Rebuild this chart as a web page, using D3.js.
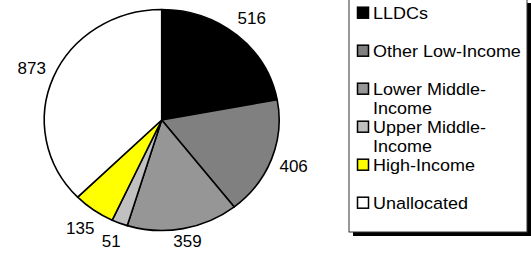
<!DOCTYPE html>
<html>
<head>
<meta charset="utf-8">
<script src="https://cdn.jsdelivr.net/npm/d3@7"></script>
<style>
  body { margin: 0; background: #fff; }
  text { font-family: "Liberation Sans", Arial, sans-serif; fill: #000; }
</style>
</head>
<body>
<svg id="chart" width="531" height="253"></svg>
<script>
// data
var categories = ["LLDCs", "Other Low-Income", "Lower Middle-Income", "Upper Middle-Income", "High-Income", "Unallocated"];
var legendLines = [["LLDCs"], ["Other Low-Income"], ["Lower Middle-", "Income"], ["Upper Middle-", "Income"], ["High-Income"], ["Unallocated"]];
var values = [516, 406, 359, 51, 135, 873];
var colors = ["#000000", "#808080", "#969696", "#c0c0c0", "#ffff00", "#ffffff"];

var svg = d3.select("#chart");
var W = 531, H = 253;
var cx = 161.7, cy = 120, R = 110.5, sx = 1.063;

var pie = d3.pie().sort(null).value(function(d){ return d; });
var arcs = pie(values);
var arc = d3.arc().innerRadius(0).outerRadius(R);
var labelArc = d3.arc().innerRadius(R * 1.2).outerRadius(R * 1.2);

var g = svg.append("g")
    .attr("transform", "translate(" + cx + "," + cy + ") scale(" + sx + ",1)");
g.selectAll("path.slice")
    .data(arcs)
    .enter().append("path")
    .attr("class", "slice")
    .attr("d", arc)
    .attr("fill", function(d, i){ return colors[i]; })
    .attr("stroke", "#000")
    .attr("stroke-width", 1.6)
    .attr("stroke-linejoin", "round")
    .attr("vector-effect", "non-scaling-stroke");

// value labels (kept inside the picture at the bottom)
svg.selectAll("text.val")
    .data(arcs)
    .enter().append("text")
    .attr("class", "val")
    .attr("transform", function(d){
        var c = labelArc.centroid(d);
        var y = Math.min(cy + c[1], H - 12);
        return "translate(" + (cx + c[0] * sx) + "," + y + ") scale(" + sx + ",1)";
    })
    .attr("text-anchor", "middle")
    .attr("dy", "0.35em")
    .attr("font-size", 16)
    .text(function(d){ return d.data; });

// legend
var lx = 349, ly = -1, lw = 178, lh = 233;
svg.append("rect")
    .attr("x", lx + 4).attr("y", ly + 4)
    .attr("width", lw).attr("height", lh)
    .attr("fill", "#000");
svg.append("rect")
    .attr("x", lx).attr("y", ly)
    .attr("width", lw).attr("height", lh)
    .attr("fill", "#fff")
    .attr("stroke", "#333")
    .attr("stroke-width", 1);

var rowY = d3.scalePoint().domain(categories).range([12.7, 202.7]);
var item = svg.selectAll("g.item")
    .data(categories)
    .enter().append("g")
    .attr("class", "item")
    .attr("transform", function(d){ return "translate(0," + rowY(d) + ")"; });
item.append("rect")
    .attr("x", 357.5).attr("y", -5.5)
    .attr("width", 11).attr("height", 11)
    .attr("fill", function(d, i){ return colors[i]; })
    .attr("stroke", "#000")
    .attr("stroke-width", 1.5);
item.each(function(d, i){
    var t = d3.select(this).append("text")
        .attr("transform", "translate(373,0) scale(1.09,1)")
        .attr("font-size", 16.5);
    legendLines[i].forEach(function(line, j){
        t.append("tspan")
            .attr("x", 0)
            .attr("y", j * 19)
            .attr("dy", "0.36em")
            .text(line);
    });
});
</script>
</body>
</html>
